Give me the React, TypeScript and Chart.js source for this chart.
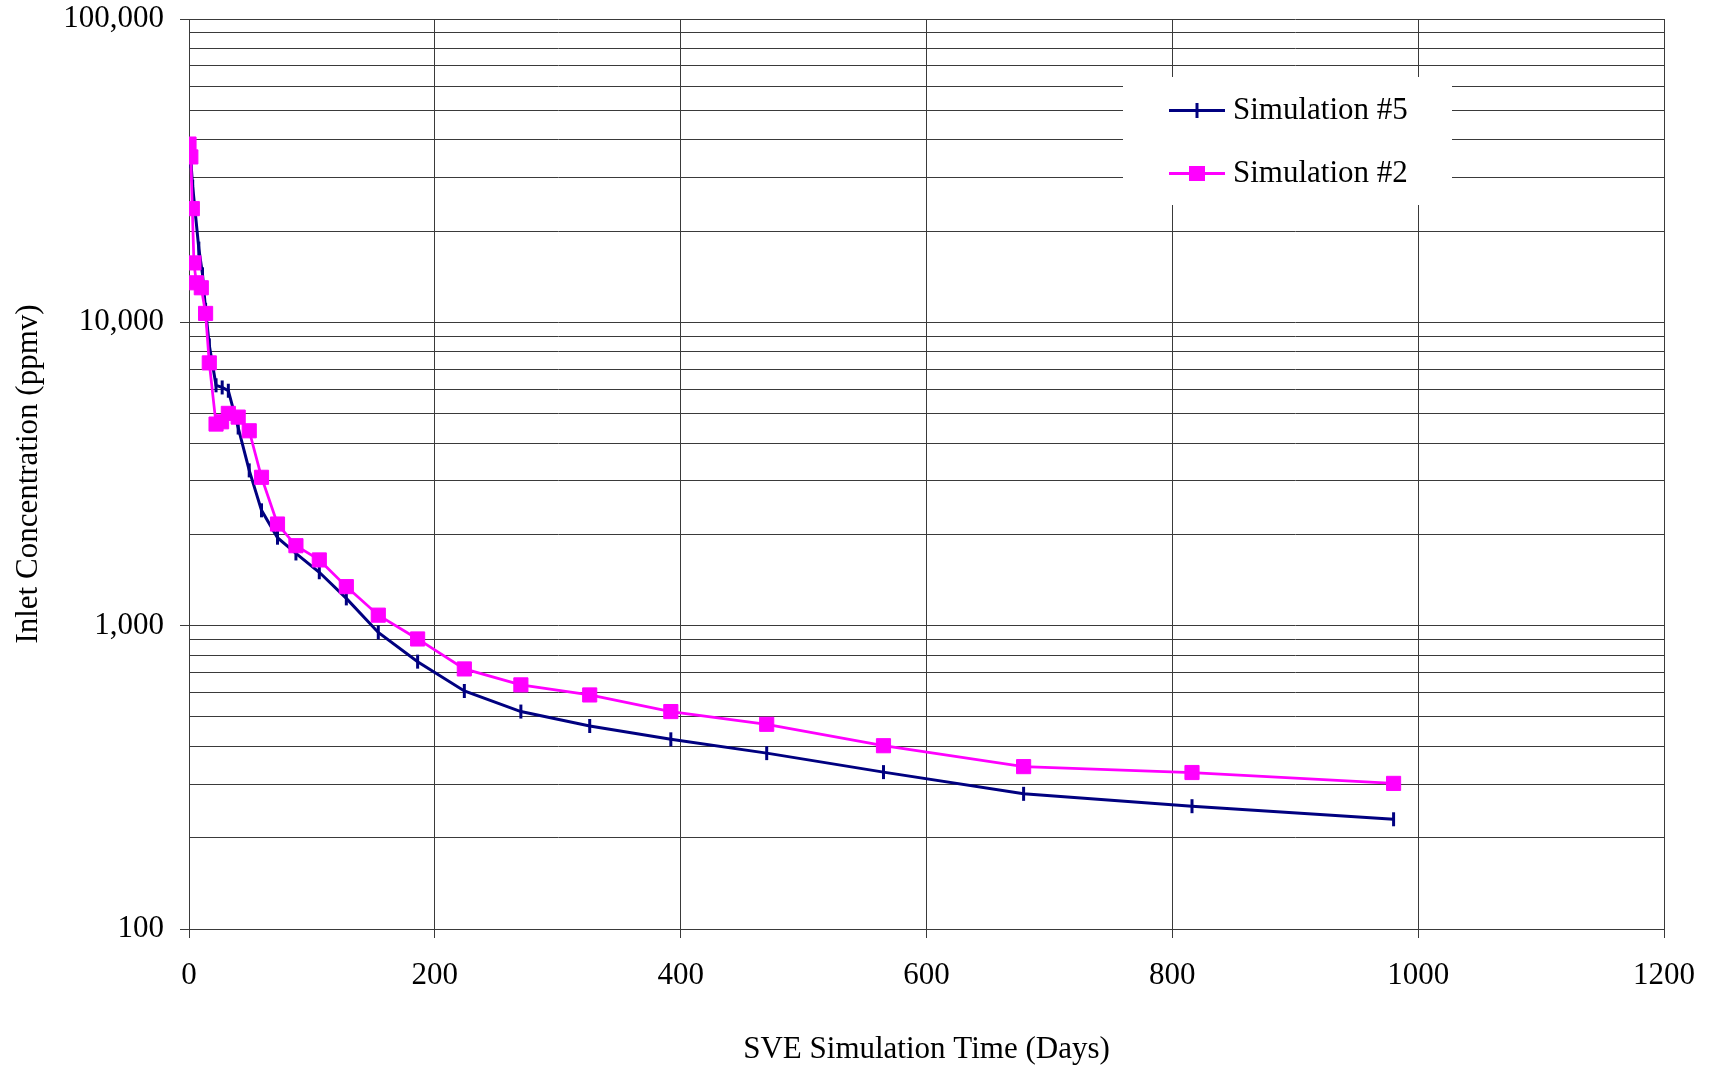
import React, { useEffect, useRef } from 'react';
import { Chart, registerables } from 'chart.js';

Chart.register(...registerables);

// ---------------- data ----------------
const seriesNames = ['Simulation #5', 'Simulation #2'];

const sim5Days = [0, 1.5, 3, 8, 11, 13.5, 16.5, 22, 27, 32, 40, 49, 59, 72, 87, 106, 128, 154, 186, 224, 270, 326, 392, 470, 565, 679, 816, 980];
const sim5Ppmv = [38000, 34000, 28000, 17500, 14400, 11000, 8400, 6200, 6100, 5950, 4500, 3250, 2400, 1950, 1730, 1500, 1230, 950, 761, 609, 521, 467, 422, 380, 329, 279, 254, 230];

const sim2Days = [0, 1.5, 2.7, 4, 6, 10, 13.5, 16.5, 22, 26.5, 32, 40, 49, 59, 72, 87, 106, 128, 154, 186, 224, 270, 326, 392, 470, 565, 679, 816, 980];
const sim2Ppmv = [38700, 35100, 23700, 15700, 13500, 13000, 10700, 7350, 4620, 4700, 5010, 4870, 4390, 3084, 2163, 1835, 1647, 1345, 1083, 904, 720, 638, 591, 521, 473, 402, 343, 328, 302];

const xTickValues = [0, 200, 400, 600, 800, 1000, 1200];
const yMajorTicks = [100, 1000, 10000, 100000];
const yMinorMultipliers = [2, 3, 4, 5, 6, 7, 8, 9];

const xTitle = 'SVE Simulation Time (Days)';
const yTitle = 'Inlet Concentration (ppmv)';

// ---------------- styles ----------------
const FONT = "'Liberation Serif', 'Times New Roman', serif";
const FONT_SIZE = 31;
const GRID = '#3a3a3a';
const NAVY = '#000080';
const MAGENTA = '#FF00FF';

export default function App() {
  const ref = useRef<HTMLCanvasElement | null>(null);

  useEffect(() => {
    document.body.style.margin = '0';
    const canvas = ref.current;
    if (!canvas) return;

    const yTicks: number[] = [];
    yMajorTicks.forEach((m, i) => {
      yTicks.push(m);
      if (i < yMajorTicks.length - 1) yMinorMultipliers.forEach((k) => yTicks.push(m * k));
    });

    const legendPlugin = {
      id: 'excelLegend',
      afterDatasetsDraw(chart: any) {
        const ctx = chart.ctx as CanvasRenderingContext2D;
        const area = chart.chartArea;
        const bx = area.left + 934;
        const by = area.top + 58;
        ctx.save();
        ctx.fillStyle = '#ffffff';
        ctx.fillRect(bx, by, 329, 128);
        const rows = [by + 33.5, by + 96.5];
        const colors = [NAVY, MAGENTA];
        rows.forEach((ry, i) => {
          ctx.strokeStyle = colors[i];
          ctx.lineWidth = 3;
          ctx.beginPath();
          ctx.moveTo(bx + 46, ry);
          ctx.lineTo(bx + 102, ry);
          ctx.stroke();
          const mx = bx + 74;
          if (i === 0) {
            ctx.lineWidth = 3;
            ctx.beginPath();
            ctx.moveTo(mx, ry - 7.5);
            ctx.lineTo(mx, ry + 7.5);
            ctx.stroke();
          } else {
            ctx.fillStyle = MAGENTA;
            ctx.fillRect(mx - 8, ry - 7.5, 16, 15);
          }
          ctx.fillStyle = '#000';
          ctx.font = `${FONT_SIZE}px ${FONT}`;
          ctx.textBaseline = 'middle';
          ctx.textAlign = 'left';
          ctx.fillText(seriesNames[i], bx + 110, ry);
        });
        ctx.restore();
      },
    };

    const chart = new Chart(canvas, {
      type: 'line',
      data: {
        datasets: [
          {
            label: seriesNames[1],
            data: sim2Days.map((d, i) => ({ x: d, y: sim2Ppmv[i] })),
            borderColor: MAGENTA,
            backgroundColor: MAGENTA,
            borderWidth: 2.75,
            pointStyle: 'rect',
            pointRadius: 10,
            pointBorderWidth: 1,
            pointBackgroundColor: MAGENTA,
            pointBorderColor: MAGENTA,
            tension: 0,
            order: 0,
          },
          {
            label: seriesNames[0],
            data: sim5Days.map((d, i) => ({ x: d, y: sim5Ppmv[i] })),
            borderColor: NAVY,
            backgroundColor: NAVY,
            borderWidth: 3,
            pointStyle: 'line',
            pointRotation: 90,
            pointRadius: 7,
            pointBorderWidth: 3,
            pointBorderColor: NAVY,
            tension: 0,
            order: 1,
          },
        ],
      },
      options: {
        animation: false,
        responsive: false,
        events: [],
        layout: { padding: { top: 19, right: 47, left: 0, bottom: 0 } },
        plugins: {
          legend: { display: false },
          tooltip: { enabled: false },
        },
        scales: {
          x: {
            type: 'linear',
            min: 0,
            max: 1200,
            afterBuildTicks: (scale: any) => {
              scale.ticks = xTickValues.map((v) => ({ value: v }));
            },
            afterFit: (scale: any) => {
              scale.height = 140;
              scale.paddingLeft = 0;
              scale.paddingRight = 0;
            },
            ticks: {
              color: '#000',
              font: { family: FONT, size: FONT_SIZE },
              padding: 19,
              maxRotation: 0,
              autoSkip: false,
              callback: (value: any) => String(value),
            },
            grid: { color: GRID, lineWidth: 1, tickLength: 9, tickColor: GRID },
            border: { color: GRID, width: 1 },
            title: {
              display: true,
              text: xTitle,
              color: '#000',
              font: { family: FONT, size: FONT_SIZE },
              padding: { top: 0, bottom: 1 },
            },
          },
          y: {
            type: 'logarithmic',
            min: 100,
            max: 100000,
            afterBuildTicks: (scale: any) => {
              scale.ticks = yTicks.map((v) => ({ value: v }));
            },
            afterFit: (scale: any) => {
              scale.width = 189;
              scale.paddingTop = 0;
              scale.paddingBottom = 0;
            },
            ticks: {
              color: '#000',
              font: { family: FONT, size: FONT_SIZE },
              padding: 16,
              autoSkip: false,
              callback: (value: any) =>
                yMajorTicks.includes(Number(value)) ? Number(value).toLocaleString('en-US') : '',
            },
            grid: {
              color: GRID,
              lineWidth: 1,
              tickLength: 9,
              tickColor: (ctx: any) =>
                ctx.tick && yMajorTicks.includes(ctx.tick.value) ? GRID : 'rgba(0,0,0,0)',
            },
            border: { color: GRID, width: 1 },
            title: {
              display: true,
              text: yTitle,
              color: '#000',
              font: { family: FONT, size: FONT_SIZE },
              padding: { top: 10, bottom: 0 },
            },
          },
        },
      },
      plugins: [legendPlugin],
    } as any);

    return () => chart.destroy();
  }, []);

  return <canvas ref={ref} width={1711} height={1069} style={{ display: 'block' }} />;
}
